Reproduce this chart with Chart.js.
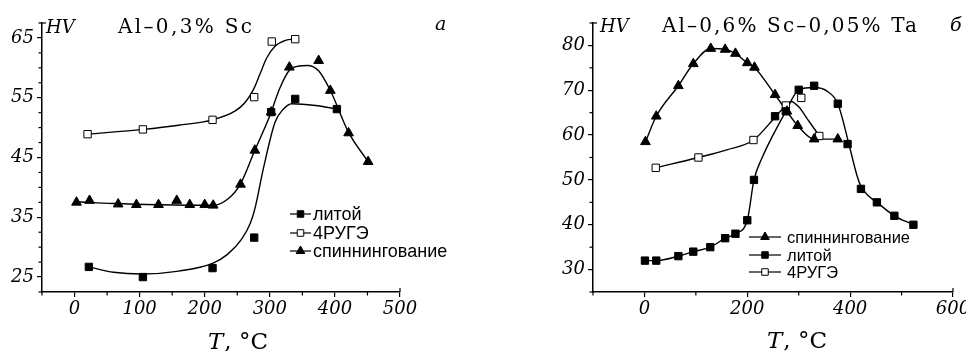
<!DOCTYPE html>
<html><head><meta charset="utf-8">
<script src="https://cdn.jsdelivr.net/npm/chart.js@4/dist/chart.umd.min.js"></script>
<style>
html,body{margin:0;padding:0;background:#fff;overflow:hidden;width:966px;height:351px;position:relative}
#c1{position:absolute;left:0;top:0}
#c2{position:absolute;left:480px;top:0}
</style></head><body>
<canvas id="c1" width="480" height="351"></canvas>
<canvas id="c2" width="500" height="351"></canvas>
<script>
// ---------- Panel a: Al-0,3%Sc ----------
const L_X_TICKS = [0, 100, 200, 300, 400, 500];
const L_Y_TICKS = [25, 35, 45, 55, 65];
// литой (cast) markers
const L_CAST_T  = [22, 105, 212, 276, 302, 339, 403];
const L_CAST_HV = [26.7, 25.0, 26.5, 31.6, 52.6, 54.8, 53.1];
// 4РУГЭ markers
const L_RUGE_T  = [20, 105, 212, 276, 303, 339];
const L_RUGE_HV = [48.9, 49.7, 51.3, 55.1, 64.4, 64.8];
// спиннингование markers
const L_SPIN_T  = [3, 23, 67, 95, 129, 157, 177, 200, 213, 255, 277, 302, 330, 375, 393, 421, 451];
const L_SPIN_HV = [37.5, 37.8, 37.2, 37.1, 37.1, 37.8, 37.1, 37.1, 37.0, 40.5, 46.2, 52.6, 60.1, 61.2, 56.2, 49.1, 44.3];
// fitted curves
const L_CAST_CURVE_T  = [22, 60, 103, 160, 212, 235, 257, 270, 277, 290, 308, 320, 334, 370, 403];
const L_CAST_CURVE_HV = [26.7, 25.8, 25.5, 26.0, 27.3, 28.8, 31.4, 34.0, 36.4, 43.1, 50.9, 53.0, 54.0, 53.7, 53.1];
const L_RUGE_CURVE_T  = [20, 105, 160, 212, 247, 262, 275, 285, 295, 308, 324, 339];
const L_RUGE_CURVE_HV = [48.9, 49.7, 50.4, 51.3, 52.8, 54.2, 56.4, 59.0, 61.6, 63.6, 64.6, 64.8];
const L_SPIN_CURVE_T  = [3, 60, 130, 213, 236, 255, 277, 300, 315, 330, 345, 358, 375, 393, 421, 451];
const L_SPIN_CURVE_HV = [37.6, 37.3, 37.1, 37.0, 38.1, 40.6, 46.2, 52.0, 56.5, 59.6, 60.3, 60.4, 59.5, 56.2, 49.2, 44.3];

// ---------- Panel б: Al-0,6%Sc-0,05%Ta ----------
const R_X_TICKS = [0, 200, 400, 600];
const R_Y_TICKS = [30, 40, 50, 60, 70, 80];
const R_SPIN_T  = [2, 23, 66, 95, 129, 157, 177, 200, 214, 254, 277, 298, 330, 376];
const R_SPIN_HV = [58.5, 64.2, 71.0, 75.9, 79.3, 79.1, 78.2, 76.1, 75.1, 69.0, 65.3, 62.1, 59.1, 59.1];
const R_CAST_T  = [1, 23, 66, 95, 128, 157, 177, 200, 213, 254, 275, 300, 330, 376, 395, 421, 452, 486, 523];
const R_CAST_HV = [32, 32, 33, 34, 35, 37, 38, 41, 50, 64.2, 65.3, 70.1, 71, 67, 58, 48, 45, 42, 40];
const R_RUGE_T  = [22, 105, 212, 275, 305, 340];
const R_RUGE_HV = [52.7, 55.0, 58.9, 66.6, 68.3, 59.8];
const R_CAST_CURVE_T  = [1, 23, 66, 95, 128, 157, 177, 200, 213, 229, 250, 275, 300, 331, 355, 376, 397, 413, 421, 436, 452, 486, 523];
const R_CAST_CURVE_HV = [32, 32, 33, 34, 35, 37, 38, 41, 50, 55, 60, 65.3, 70.1, 70.6, 69.8, 67, 58.3, 51.1, 48.6, 46.4, 45, 42, 40];
const R_RUGE_CURVE_T  = [22, 105, 160, 212, 254, 275, 285, 300, 318, 334, 340];
const R_RUGE_CURVE_HV = [52.7, 55.0, 56.7, 58.9, 64.0, 66.6, 67.5, 66.3, 63.4, 60.8, 59.8];

const LABEL_CAST = 'литой';
const LABEL_RUGE = '4РУГЭ';
const LABEL_SPIN = 'спиннингование';

function pts(xs, ys) { return xs.map((x, i) => ({x: x, y: ys[i]})); }
function markerDs(xs, ys, style, filled) {
  return {data: pts(xs, ys), showLine: false, pointStyle: style,
    pointRadius: style === 'triangle' ? 5.6 : 5.2, pointHoverRadius: 0,
    pointBackgroundColor: filled ? '#000' : '#fff', pointBorderColor: '#000',
    pointBorderWidth: 1, order: 0, clip: false};
}
function curveDs(xs, ys) {
  return {data: pts(xs, ys), showLine: true, pointRadius: 0, borderColor: '#000',
    borderWidth: 1.4, cubicInterpolationMode: 'monotone', fill: false, order: 1, clip: false};
}
function minorList(min, max, step, majors) {
  const out = [];
  for (let v = min; v <= max + 1e-9; v += step) {
    const r = Math.round(v * 100) / 100;
    if (!majors.includes(r)) out.push(r);
  }
  return out;
}

const tickFont = {family: 'DejaVu Serif', size: 18, style: 'italic'};
function makeScales(xmin, xmax, xt, ymin, ymax, yt, yW) {
  const common = {
    grid: {drawOnChartArea: false, drawTicks: true, tickLength: 5, color: '#000', lineWidth: 1.2},
    border: {display: true, color: '#000', width: 1.5}
  };
  return {
    x: Object.assign({type: 'linear', min: xmin, max: xmax,
      afterBuildTicks: s => { s.ticks = xt.map(v => ({value: v})); },
      ticks: {font: tickFont, color: '#000', padding: 2, maxRotation: 0, autoSkip: false, callback: v => String(v)},
      afterFit: s => { s.height = 59; }}, common),
    y: Object.assign({type: 'linear', min: ymin, max: ymax,
      afterBuildTicks: s => { s.ticks = yt.map(v => ({value: v})); },
      ticks: {font: tickFont, color: '#000', padding: 3, autoSkip: false, callback: v => String(v)},
      afterFit: s => { s.width = yW; }}, common)
  };
}

function fitText(ctx, text, x, y, target) {
  ctx.letterSpacing = '0px';
  const w = ctx.measureText(text).width;
  const n = [...text].length;
  const sp = Math.max(0, (target - w) / (n - 1));
  ctx.letterSpacing = sp + 'px';
  ctx.fillText(text, x, y);
  ctx.letterSpacing = '0px';
}

function drawMarker(ctx, style, filled, x, y, r) {
  ctx.beginPath();
  if (style === 'rect') {
    const h = r * Math.SQRT1_2;
    ctx.rect(x - h, y - h, 2 * h, 2 * h);
  } else {
    ctx.moveTo(x, y - r);
    ctx.lineTo(x + r * 0.866, y + r * 0.5);
    ctx.lineTo(x - r * 0.866, y + r * 0.5);
    ctx.closePath();
  }
  ctx.fillStyle = filled ? '#000' : '#fff';
  ctx.fill();
  ctx.lineWidth = 1;
  ctx.strokeStyle = '#000';
  ctx.stroke();
}

const deco = {
  id: 'deco',
  afterDraw(chart, args, o) {
    const ctx = chart.ctx, xs = chart.scales.x, ys = chart.scales.y, ca = chart.chartArea;
    ctx.save();
    ctx.strokeStyle = '#000';
    ctx.lineWidth = 1.2;
    const seg = (a, b, c, d) => { ctx.beginPath(); ctx.moveTo(a, b); ctx.lineTo(c, d); ctx.stroke(); };
    o.xMinor.forEach(v => { const p = xs.getPixelForValue(v); seg(p, ca.bottom, p, ca.bottom + 3.5); });
    o.yMinor.forEach(v => { const p = ys.getPixelForValue(v); seg(ca.left - 3.5, p, ca.left, p); });
    seg(ca.right, ca.bottom, ca.right, ca.bottom - 4);
    seg(ca.left, ca.top, ca.left + 4, ca.top);
    ctx.fillStyle = '#000';
    ctx.textBaseline = 'alphabetic';
    ctx.textAlign = 'left';
    // HV
    ctx.font = 'italic 18px "DejaVu Serif"';
    ctx.fillText('HV', o.hv[0], o.hv[1]);
    // alloy title
    ctx.font = '20px "DejaVu Serif"';
    fitText(ctx, o.title, o.titlePos[0], o.titlePos[1], o.titleW);
    // panel letter
    ctx.font = 'italic 19px "DejaVu Serif"';
    ctx.fillText(o.letter, o.letterPos[0], o.letterPos[1]);
    // x title
    ctx.font = 'italic 23px "DejaVu Serif"';
    ctx.fillText('T', o.xTitle[0], o.xTitle[1]);
    const tw = ctx.measureText('T').width;
    ctx.font = '23px "DejaVu Serif"';
    ctx.fillText(', °C', o.xTitle[0] + tw + 1, o.xTitle[1]);
    // legend
    ctx.font = o.legend.font;
    ctx.textBaseline = 'middle';
    o.legend.items.forEach((it, i) => {
      const y = o.legend.y[i], x = o.legend.x;
      ctx.lineWidth = 1.2;
      seg(x, y, x + o.legend.lw, y);
      drawMarker(ctx, it.style, it.filled, x + o.legend.lw / 2, y, it.style === 'triangle' ? 5 : 4.6);
      ctx.fillStyle = '#000';
      ctx.fillText(it.label, x + o.legend.lw + o.legend.gap, y + 1);
    });
    ctx.restore();
  }
};

const baseOpts = {
  responsive: false, animation: false, devicePixelRatio: 1,
  plugins: {legend: {display: false}, tooltip: {enabled: false}}
};

new Chart(document.getElementById('c1'), {
  type: 'line',
  data: {datasets: [
    markerDs(L_CAST_T, L_CAST_HV, 'rect', true),
    markerDs(L_RUGE_T, L_RUGE_HV, 'rect', false),
    markerDs(L_SPIN_T, L_SPIN_HV, 'triangle', true),
    curveDs(L_CAST_CURVE_T, L_CAST_CURVE_HV),
    curveDs(L_RUGE_CURVE_T, L_RUGE_CURVE_HV),
    curveDs(L_SPIN_CURVE_T, L_SPIN_CURVE_HV)
  ]},
  options: Object.assign({}, baseOpts, {
    layout: {padding: {top: 23, right: 80, bottom: 0, left: 0}},
    scales: makeScales(-50, 500, L_X_TICKS, 22.5, 67.5, L_Y_TICKS, 42),
    plugins: Object.assign({}, baseOpts.plugins, {deco: {
      xMinor: minorList(-50, 500, 50, L_X_TICKS),
      yMinor: minorList(22.5, 67.5, 2.5, L_Y_TICKS),
      hv: [46, 33], title: 'Al–0,3% Sc', titlePos: [118, 33], titleW: 134,
      letter: 'a', letterPos: [435, 30], xTitle: [208, 349],
      legend: {font: '18px "Liberation Sans"', x: 290, lw: 21, gap: 2, y: [214, 233, 251], items: [
        {label: LABEL_CAST, style: 'rect', filled: true},
        {label: LABEL_RUGE, style: 'rect', filled: false},
        {label: LABEL_SPIN, style: 'triangle', filled: true}]}
    }})
  }),
  plugins: [deco]
});

new Chart(document.getElementById('c2'), {
  type: 'line',
  data: {datasets: [
    markerDs(R_SPIN_T, R_SPIN_HV, 'triangle', true),
    markerDs(R_CAST_T, R_CAST_HV, 'rect', true),
    markerDs(R_RUGE_T, R_RUGE_HV, 'rect', false),
    curveDs(R_SPIN_T, R_SPIN_HV),
    curveDs(R_CAST_CURVE_T, R_CAST_CURVE_HV),
    curveDs(R_RUGE_CURVE_T, R_RUGE_CURVE_HV)
  ]},
  options: Object.assign({}, baseOpts, {
    layout: {padding: {top: 23, right: 27, bottom: 0, left: 73}},
    scales: makeScales(-100, 600, R_X_TICKS, 25, 85, R_Y_TICKS, 40),
    plugins: Object.assign({}, baseOpts.plugins, {deco: {
      xMinor: minorList(-100, 600, 100, R_X_TICKS),
      yMinor: minorList(25, 85, 5, R_Y_TICKS),
      hv: [120, 32], title: 'Al–0,6% Sc–0,05% Ta', titlePos: [182, 32], titleW: 255,
      letter: 'б', letterPos: [470, 31], xTitle: [287, 348],
      legend: {font: '16.5px "Liberation Sans"', x: 269, lw: 32, gap: 6, y: [237, 255, 272], items: [
        {label: LABEL_SPIN, style: 'triangle', filled: true},
        {label: LABEL_CAST, style: 'rect', filled: true},
        {label: LABEL_RUGE, style: 'rect', filled: false}]}
    }})
  }),
  plugins: [deco]
});
</script>
</body></html>
